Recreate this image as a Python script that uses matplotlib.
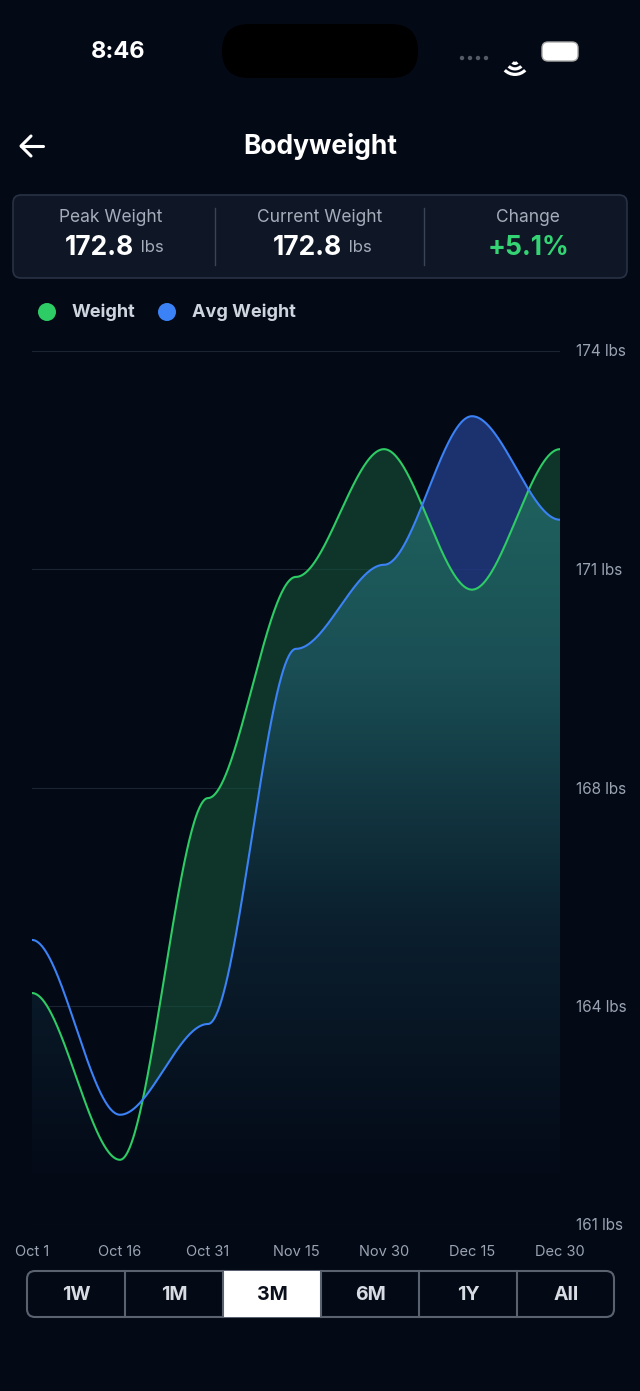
import numpy as np
import matplotlib
matplotlib.use("Agg")
import matplotlib.pyplot as plt
from matplotlib.patches import FancyBboxPatch, Circle, Rectangle, Wedge
from matplotlib.colors import LinearSegmentedColormap

plt.rcParams['font.family'] = ['Inter', 'DejaVu Sans']

# data
days = [0, 15, 30, 45, 60, 75, 90]
date_labels = ['Oct 1', 'Oct 16', 'Oct 31', 'Nov 15', 'Nov 30', 'Dec 15', 'Dec 30']
weight = [164.45, 161.97, 167.35, 170.64, 172.54, 170.45, 172.54]
avg_weight = [165.24, 162.64, 163.99, 169.57, 170.82, 173.03, 171.49]
tick_vals = [161, 164.25, 167.5, 170.75, 174]
tick_labels = ['161 lbs', '164 lbs', '168 lbs', '171 lbs', '174 lbs']
ranges = ['1W', '1M', '3M', '6M', '1Y', 'All']
selected = '3M'

BG = '#040916'


def bump(x, y, n=900):
    # cubic segments with flat tangents at every point
    x = np.asarray(x, float); y = np.asarray(y, float)
    xs = np.linspace(x[0], x[-1], n)
    idx = np.clip(np.searchsorted(x, xs) - 1, 0, len(x) - 2)
    t = (xs - x[idx]) / (x[idx + 1] - x[idx])
    s = 3 * t**2 - 2 * t**3
    return xs, y[idx] + (y[idx + 1] - y[idx]) * s


fig = plt.figure(figsize=(6.4, 13.91), dpi=100, facecolor=BG)

ax = fig.add_axes([32 / 640, (1391 - 1225) / 1391, 528 / 640, 874 / 1391])
ax.set_facecolor(BG)
ax.set_xlim(0, 90)
ax.set_ylim(161, 174)
for sp in ax.spines.values():
    sp.set_visible(False)
ax.set_xticks([]); ax.set_yticks([])
for v in tick_vals:
    ax.axhline(v, color='#1c2433', lw=0.8, zorder=0)

xs, yw = bump(days, weight)
_, ya = bump(days, avg_weight)
base = 161.6
low = np.minimum(yw, ya)

grad = LinearSegmentedColormap.from_list('g', [BG, '#0b1f2e', '#1a4f55', '#216a62'])
img = ax.imshow(np.linspace(0, 1, 256)[::-1].reshape(-1, 1), cmap=grad, aspect='auto',
                extent=[0, 90, base, 173.2], zorder=1)
poly = ax.fill_between(xs, base, low, color='none')
img.set_clip_path(poly.get_paths()[0], transform=ax.transData)

ax.fill_between(xs, ya, yw, where=yw >= ya, color='#17543a', alpha=0.6, lw=0, zorder=2, interpolate=True)
ax.fill_between(xs, yw, ya, where=(ya > yw) & (xs > 45), color='#213a80', alpha=0.85, lw=0, zorder=2, interpolate=True)
ax.plot(xs, yw, color='#2ecc64', lw=1.5, zorder=3)
ax.plot(xs, ya, color='#3b82f6', lw=1.5, zorder=3)

ov = fig.add_axes([0, 0, 1, 1], facecolor='none')
ov.set_xlim(0, 640); ov.set_ylim(1391, 0); ov.axis('off')

for v, lab in zip(tick_vals, tick_labels):
    py = 1225 - (v - 161) / 13 * 874
    ov.text(576, py + 1, lab, color='#9aa3b2', fontsize=11, va='center', ha='left')
for d, lab in zip(days, date_labels):
    px = 32 + d / 90 * 528
    ov.text(px, 1252, lab, color='#9aa3b2', fontsize=10.5, va='center', ha='center')

# status bar
ov.text(118, 52, '8:46', color='white', fontsize=17, fontweight='bold', ha='center', va='center')
ov.add_patch(FancyBboxPatch((222, 24), 196, 54, boxstyle='round,pad=0,rounding_size=27', fc='black', ec='none'))
for i in range(4):
    ov.add_patch(Circle((462 + i * 8, 58), 2.2, fc='#555b66', ec='none'))
for r in (16, 10.5, 5):
    ov.add_patch(Wedge((515, 60), r, 45, 135, width=3.2, fc='white', ec='none'))
ov.add_patch(FancyBboxPatch((542, 42), 36, 19, boxstyle='round,pad=0,rounding_size=6', fc='white', ec='#aaaaaa', lw=1))

# header arrow
ov.plot([21, 43], [146, 146], color='white', lw=2.2, solid_capstyle='round')
ov.plot([31, 21, 31], [136, 146, 156], color='white', lw=2.2, solid_capstyle='round', solid_joinstyle='round')
ov.text(320, 147, 'Bodyweight', color='white', fontsize=19, fontweight='bold', ha='center', va='center')

# stats box
ov.add_patch(FancyBboxPatch((13, 195), 614, 83, boxstyle='round,pad=0,rounding_size=8', fc='#0f1727', ec='#283244', lw=1.2))
for sx in (215, 424):
    ov.plot([sx, sx], [208, 265], color='#3a4454', lw=1)
ov.text(111, 217, 'Peak Weight', color='#a5adba', fontsize=12.5, ha='center', va='center')
ov.text(134, 248, '172.8', color='white', fontsize=19, fontweight='bold', ha='right', va='center')
ov.text(136, 248, ' lbs', color='#a5adba', fontsize=12, ha='left', va='center')
ov.text(320, 217, 'Current Weight', color='#a5adba', fontsize=12.5, ha='center', va='center')
ov.text(342, 248, '172.8', color='white', fontsize=19, fontweight='bold', ha='right', va='center')
ov.text(344, 248, ' lbs', color='#a5adba', fontsize=12, ha='left', va='center')
ov.text(528, 217, 'Change', color='#a5adba', fontsize=12.5, ha='center', va='center')
ov.text(528, 248, '+5.1%', color='#34d474', fontsize=19, fontweight='bold', ha='center', va='center')

# legend
ov.add_patch(Circle((47, 312), 9, fc='#2ecc64', ec='none'))
ov.text(72, 312, 'Weight', color='#cfd5de', fontsize=13, fontweight='bold', va='center')
ov.add_patch(Circle((167, 312), 9, fc='#3b82f6', ec='none'))
ov.text(192, 312, 'Avg Weight', color='#cfd5de', fontsize=13, fontweight='bold', va='center')

# range buttons
bx0, bw, by, bh = 27, 98, 1271, 46
ov.add_patch(FancyBboxPatch((bx0, by), bw * 6 - 1, bh, boxstyle='round,pad=0,rounding_size=8', fc=BG, ec='#5a6270', lw=1.5))
for i, r in enumerate(ranges):
    x0 = bx0 + i * bw
    if r == selected:
        ov.add_patch(Rectangle((x0, by), bw, bh, fc='white', ec='none'))
        col = '#0a0f1c'
    else:
        col = '#d7dbe2'
    if i > 0:
        ov.plot([x0, x0], [by, by + bh], color='#5a6270', lw=1.5)
    ov.text(x0 + bw / 2, by + bh / 2 + 1, r, color=col, fontsize=14, fontweight='bold', ha='center', va='center')

fig.savefig('out.png', dpi=100, facecolor=BG)
